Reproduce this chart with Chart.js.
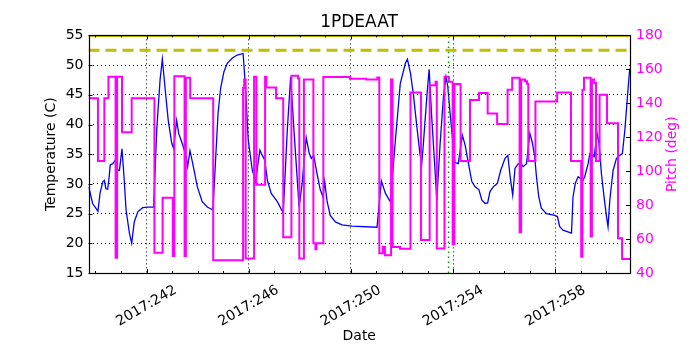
<!DOCTYPE html>
<html>
<head>
<meta charset="utf-8">
<script src="https://cdn.jsdelivr.net/npm/chart.js@4.4.1/dist/chart.umd.min.js"></script>
<style>
  html, body { margin: 0; padding: 0; background: #ffffff; }
  canvas { display: block; }
</style>
</head>
<body>
<canvas id="c" width="700" height="350"></canvas>
<script>
// ---- data ----
const chartTitle = '1PDEAAT';
const xTickDays = [242, 246, 250, 254, 258];
const dayMin = 239.73;
const dayMax = 260.92;
const tempAxisMin = 15, tempAxisMax = 55;
const pitchAxisMin = 40, pitchAxisMax = 180;
const tempLimit = 52.5;       // dashed yellow limit
const tempTopLimit = 55;      // solid yellow limit (under top border)
const eventDay = 253.82;      // green dotted marker

const tempDays = [
  239.74, 239.89, 240.10, 240.18, 240.29, 240.35, 240.41, 240.48, 240.54, 240.58,
  240.68, 240.78, 240.87, 240.94, 241.04, 241.11, 241.20, 241.33, 241.42, 241.52,
  241.66, 241.85, 242.05, 242.28, 242.40, 242.53, 242.62, 242.72, 242.85, 242.99,
  243.06, 243.18, 243.26, 243.42, 243.55, 243.61, 243.70, 243.78, 243.86, 243.99,
  244.18, 244.38, 244.60, 244.71, 244.80, 244.90, 245.03, 245.16, 245.36, 245.55,
  245.78, 245.88, 245.98, 246.14, 246.27, 246.36, 246.44, 246.53, 246.63, 246.73,
  246.88, 247.12, 247.35, 247.51, 247.64, 247.77, 247.97, 248.09, 248.19, 248.25,
  248.37, 248.45, 248.54, 248.67, 248.80, 248.91, 248.97, 249.07, 249.19, 249.39,
  249.65, 250.04, 251.02, 251.19, 251.35, 251.54, 251.74, 251.93, 252.13, 252.21,
  252.33, 252.44, 252.58, 252.70, 252.77, 252.83, 252.97, 253.06, 253.16, 253.29,
  253.36, 253.49, 253.62, 253.72, 253.79, 253.88, 253.98, 254.07, 254.20, 254.36,
  254.47, 254.60, 254.73, 254.86, 255.01, 255.12, 255.25, 255.35, 255.44, 255.57,
  255.73, 255.86, 256.03, 256.14, 256.23, 256.33, 256.42, 256.55, 256.65, 256.74,
  256.87, 257.00, 257.09, 257.19, 257.26, 257.35, 257.45, 257.65, 257.98, 258.08,
  258.17, 258.30, 258.63, 258.69, 258.78, 258.89, 258.98, 259.08, 259.15, 259.28,
  259.35, 259.44, 259.52, 259.63, 259.71, 259.80, 259.91, 260.00, 260.06, 260.13,
  260.26, 260.39, 260.52, 260.62, 260.72, 260.82, 260.91
];
const tempValues = [
  29.5, 26.7, 25.4, 28.4, 30.4, 30.6, 29.2, 29.1, 31.2, 33.2,
  33.4, 34.0, 32.3, 32.3, 35.9, 31.8, 25.6, 21.7, 20.0, 23.6,
  25.3, 26.0, 26.1, 26.1, 39.1, 47.5, 51.0, 46.4, 40.7, 36.8,
  36.0, 40.7, 38.5, 36.5, 34.6, 32.9, 35.6, 34.0, 32.3, 29.5,
  27.0, 26.1, 25.6, 34.6, 41.9, 46.1, 48.9, 50.3, 51.2, 51.7,
  51.96, 45.8, 37.4, 32.3, 30.4, 33.4, 35.7, 34.8, 34.0, 30.6,
  28.4, 27.0, 25.1, 39.1, 48.0, 39.1, 26.1, 30.1, 35.1, 37.8,
  35.1, 34.3, 34.8, 31.8, 29.0, 27.8, 30.4, 27.0, 24.7, 23.6,
  23.1, 22.9, 22.7, 30.5, 28.4, 27.0, 37.4, 46.9, 50.3, 51.0,
  48.6, 45.2, 39.6, 35.1, 33.4, 36.5, 44.7, 49.3, 41.3, 32.3,
  27.3, 36.8, 44.7, 48.0, 46.4, 41.9, 37.4, 33.6, 33.4, 38.2,
  36.5, 33.4, 30.4, 29.5, 29.0, 27.3, 26.7, 26.8, 28.7, 29.5,
  30.1, 32.3, 34.3, 34.8, 31.2, 28.1, 32.6, 33.4, 33.4, 32.9,
  33.4, 38.5, 37.1, 34.6, 31.2, 27.8, 25.9, 25.0, 24.7, 24.5,
  22.8, 22.2, 21.7, 27.8, 30.1, 31.2, 30.9, 30.6, 31.2, 33.4,
  35.1, 34.8, 34.6, 38.5, 36.8, 31.8, 27.6, 24.5, 22.8, 27.3,
  32.3, 34.3, 34.8, 35.1, 39.1, 44.7, 49.4
];

const pitchDays = [
  239.74, 240.10, 240.35, 240.51, 240.79, 240.85, 241.04, 241.42, 242.31, 242.63,
  243.03, 243.09, 243.49, 243.54, 243.71, 244.61, 245.78, 245.82, 245.88, 246.21,
  246.30, 246.64, 246.69, 247.07, 247.35, 247.67, 247.93, 247.98, 248.16, 248.53,
  248.61, 248.65, 248.92, 249.96, 250.60, 251.03, 251.11, 251.25, 251.33, 251.57,
  251.63, 251.92, 252.33, 252.74, 253.08, 253.31, 253.36, 253.66, 253.83, 253.98,
  254.05, 254.29, 254.66, 255.01, 255.35, 255.72, 256.13, 256.31, 256.60, 256.66,
  256.81, 256.89, 256.94, 257.22, 258.07, 258.61, 259.01, 259.06, 259.12, 259.38,
  259.43, 259.52, 259.59, 259.73, 260.02, 260.45, 260.61, 260.92
];
const pitchValues = [
  143, 106, 143, 155.6, 49, 155.6, 123, 143, 52, 84.4,
  50, 156, 50, 155, 143, 47.5, 149, 154, 48.6, 155.6,
  92, 155.6, 149.3, 143, 61.1, 156.2, 154.6, 48.6, 154, 57.5,
  54, 57.5, 155.5, 154.5, 154, 155.2, 51.6, 55.5, 50.5, 154,
  55.3, 54.3, 146.4, 59.4, 150.7, 152.7, 54.4, 155.6, 152.7, 57,
  151.3, 106, 142, 146, 134, 127.8, 148, 155, 64, 154,
  153, 151.5, 106, 141, 146.3, 106, 49.6, 148, 155, 61.5,
  154, 152, 106, 145, 128.2, 60.5, 48.3, 48.3
];

// ---- chart ----
const FONT = '"DejaVu Sans", "Liberation Sans", sans-serif';
const MAGENTA = '#ff00ff';

const axisDecor = {
  id: 'axisDecor',
  afterDatasetsDraw(chart) {
    const { ctx, chartArea: a, scales } = chart;
    const xs = scales.x, ys = scales.y, y2s = scales.y2;
    ctx.save();
    ctx.strokeStyle = '#000';
    ctx.lineWidth = 1;
    ctx.setLineDash([]);
    ctx.beginPath();
    const majors = xs.ticks.map(t => t.value);
    for (const v of majors) {
      const px = Math.round(xs.getPixelForValue(v)) + 0.5;
      ctx.moveTo(px, a.bottom); ctx.lineTo(px, a.bottom - 4);
      ctx.moveTo(px, a.top); ctx.lineTo(px, a.top + 4);
    }
    for (let d = Math.ceil(xs.min); d <= xs.max; d++) {
      if (majors.includes(d)) continue;
      const px = Math.round(xs.getPixelForValue(d)) + 0.5;
      ctx.moveTo(px, a.bottom); ctx.lineTo(px, a.bottom - 2);
      ctx.moveTo(px, a.top); ctx.lineTo(px, a.top + 2);
    }
    for (const t of ys.ticks) {
      const py = Math.round(ys.getPixelForValue(t.value)) + 0.5;
      ctx.moveTo(a.left, py); ctx.lineTo(a.left + 4, py);
    }
    for (const t of y2s.ticks) {
      const py = Math.round(y2s.getPixelForValue(t.value)) + 0.5;
      ctx.moveTo(a.right, py); ctx.lineTo(a.right - 4, py);
    }
    ctx.stroke();
    ctx.lineWidth = 1.2;
    ctx.strokeRect(Math.round(a.left) + 0.5, Math.round(a.top) + 0.5,
                   Math.round(a.right) - Math.round(a.left), Math.round(a.bottom) - Math.round(a.top));

    // rotated x tick labels, centred on the tick
    ctx.fillStyle = '#000';
    ctx.font = '14px ' + FONT;
    ctx.textAlign = 'center';
    ctx.textBaseline = 'middle';
    for (const v of majors) {
      const px = xs.getPixelForValue(v);
      ctx.save();
      ctx.translate(px, a.bottom + 33);
      ctx.rotate(-Math.PI / 6);
      ctx.fillText('2017:' + v, 0, 0);
      ctx.restore();
    }
    // right axis title, reading bottom to top
    ctx.save();
    ctx.fillStyle = MAGENTA;
    ctx.translate(a.right + 42, (a.top + a.bottom) / 2);
    ctx.rotate(-Math.PI / 2);
    ctx.fillText('Pitch (deg)', 0, 0);
    ctx.restore();
    ctx.restore();
  }
};

const pts = (xs, ys) => xs.map((x, i) => ({ x: x, y: ys[i] }));

new Chart(document.getElementById('c'), {
  type: 'line',
  data: {
    datasets: [
      {
        label: 'limit-dashed',
        data: [{ x: dayMin, y: tempLimit }, { x: dayMax, y: tempLimit }],
        yAxisID: 'y', borderColor: '#bfbf00', borderWidth: 3, borderDash: [11, 6],
        pointRadius: 0, order: 0
      },
      {
        label: 'limit-top',
        data: [{ x: dayMin, y: tempTopLimit }, { x: dayMax, y: tempTopLimit }],
        yAxisID: 'y', borderColor: '#bfbf00', borderWidth: 3,
        pointRadius: 0, order: 0, clip: 0
      },
      {
        label: 'event',
        data: [{ x: eventDay, y: tempAxisMin }, { x: eventDay, y: tempAxisMax }],
        yAxisID: 'y', borderColor: '#00a000', borderWidth: 1.5, borderDash: [1.5, 3.5],
        pointRadius: 0, order: 1
      },
      {
        label: 'Pitch',
        data: pts(pitchDays, pitchValues),
        yAxisID: 'y2', borderColor: MAGENTA, borderWidth: 2, stepped: true,
        pointRadius: 0, order: 2
      },
      {
        label: 'Temperature',
        data: pts(tempDays, tempValues),
        yAxisID: 'y', borderColor: '#0000ff', borderWidth: 1.3, tension: 0,
        pointRadius: 0, order: 3
      }
    ]
  },
  options: {
    responsive: false,
    animation: false,
    events: [],
    layout: { padding: { left: 18, right: 0, top: 0, bottom: 0 } },
    plugins: {
      legend: { display: false },
      tooltip: { enabled: false },
      title: {
        display: true, text: chartTitle, color: '#000',
        font: { family: FONT, size: 17, weight: 'normal' },
        padding: { top: 12, bottom: 3 }
      }
    },
    scales: {
      x: {
        type: 'linear', position: 'bottom', min: dayMin, max: dayMax,
        afterBuildTicks: s => { s.ticks = xTickDays.map(v => ({ value: v })); },
        afterFit: s => { s.height = 77; },
        ticks: { display: false },
        grid: { color: '#000', lineWidth: 1, drawTicks: false },
        border: { display: false, dash: [1, 3] },
        title: {
          display: true, text: 'Date', color: '#000',
          font: { family: FONT, size: 14 }, padding: { top: 0, bottom: 5.6 }
        }
      },
      y: {
        type: 'linear', position: 'left', min: tempAxisMin, max: tempAxisMax,
        afterFit: s => { s.width = 70.5; },
        ticks: { stepSize: 5, color: '#000', padding: 5, font: { family: FONT, size: 14 } },
        grid: { color: '#000', lineWidth: 1, drawTicks: false },
        border: { display: false, dash: [1, 3] },
        title: {
          display: true, text: 'Temperature (C)', color: '#000',
          font: { family: FONT, size: 14 }, padding: { top: 25, bottom: 0 }
        }
      },
      y2: {
        type: 'linear', position: 'right', min: pitchAxisMin, max: pitchAxisMax,
        afterFit: s => { s.width = 70; },
        ticks: { stepSize: 20, color: MAGENTA, padding: 6, font: { family: FONT, size: 14 } },
        grid: { drawOnChartArea: false, drawTicks: false },
        border: { display: false }
      }
    }
  },
  plugins: [axisDecor]
});
</script>
</body>
</html>
